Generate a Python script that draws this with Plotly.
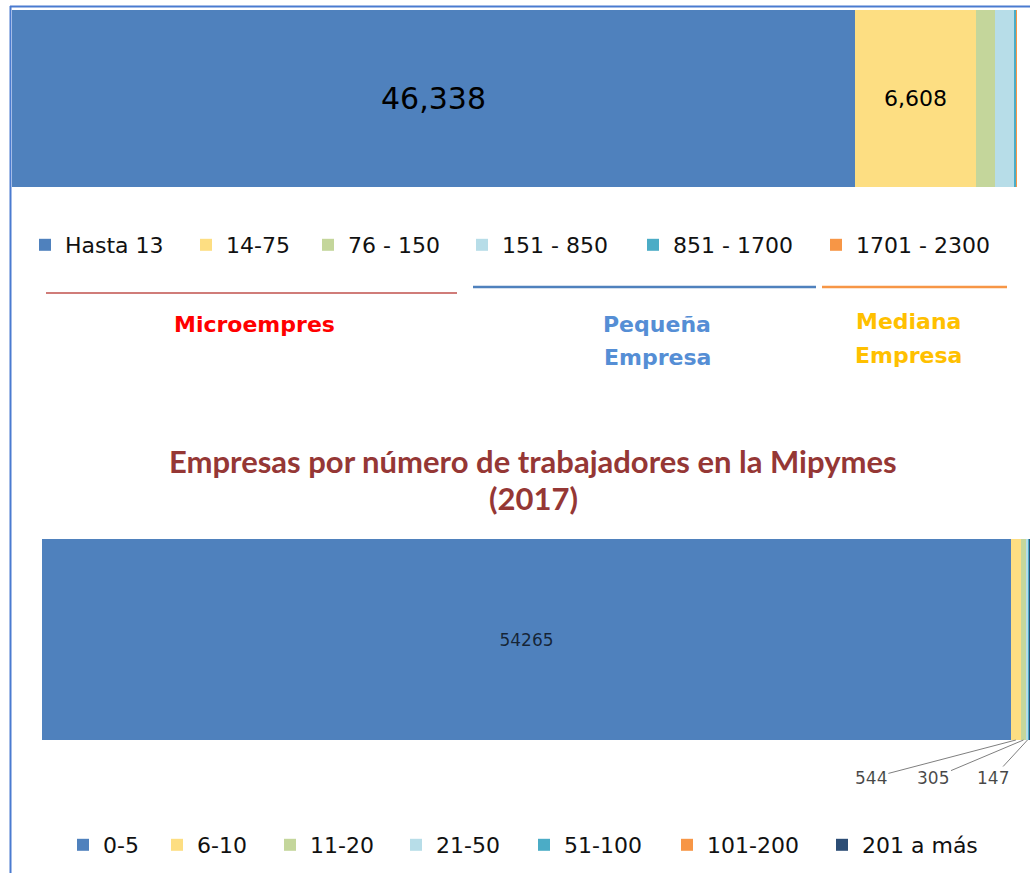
import plotly.graph_objects as go

# Empresas (Mipymes) by size band - upper bar
top_categories = ["Hasta 13", "14-75", "76 - 150", "151 - 850", "851 - 1700", "1701 - 2300"]
top_values = [46338, 6608, 1047, 1047, 165, 20]
top_show_label = [True, True, False, False, False, False]

# Empresas por número de trabajadores (2017) - lower bar
bottom_categories = ["0-5", "6-10", "11-20", "21-50", "51-100", "101-200", "201 a más"]
bottom_values = [54265, 544, 305, 147, 39, 14, 13]
bottom_show_label = [True, True, True, True, False, False, False]

title_lines = ["Empresas por número de trabajadores en la Mipymes", "(2017)"]

# ---- styling ----
W, H = 1030, 873
COLORS = ["#4F81BD", "#FDDE82", "#C4D69B", "#B7DDE8", "#4BACC6", "#F79646", "#2C4D75"]
LEGEND_FONT = dict(family="DejaVu Sans", size=22, color="#111111")
top_legend_left = [39, 200, 322, 476, 647, 830]
bottom_legend_left = [77, 171, 284, 410, 538, 681, 836]


def px(x):
    return x / W


def py(y):
    return 1 - y / H


fig = go.Figure()
legends = {}
n_leg = 0

top_fonts = [dict(family="DejaVu Sans", size=30, color="#000000"),
             dict(family="DejaVu Sans", size=22, color="#000000")]
for i, (cat, val, col, show) in enumerate(zip(top_categories, top_values, COLORS, top_show_label)):
    n_leg += 1
    key = "legend" if n_leg == 1 else f"legend{n_leg}"
    fig.add_trace(go.Bar(
        x=[val], y=[0], orientation="h", width=1, name=cat,
        marker=dict(color=col, line=dict(width=0)),
        text=[f"{val:,}"] if show else None,
        textposition="inside", insidetextanchor="middle", textangle=0,
        textfont=top_fonts[min(i, 1)],
        xaxis="x", yaxis="y", legend=key, hoverinfo="name+x",
    ))
    legends[key] = dict(x=px(top_legend_left[i] - 14), xanchor="left",
                        y=py(245), yanchor="middle", font=LEGEND_FONT,
                        bgcolor="rgba(0,0,0,0)", borderwidth=0)

annotations = []
cum = 0
for i, (cat, val, col, show) in enumerate(zip(bottom_categories, bottom_values, COLORS, bottom_show_label)):
    n_leg += 1
    key = f"legend{n_leg}"
    inside = show and i == 0
    fig.add_trace(go.Bar(
        x=[val], y=[0], orientation="h", width=1, name=cat,
        marker=dict(color=col, line=dict(width=0)),
        text=[str(val)] if inside else None,
        textposition="inside", insidetextanchor="middle", textangle=0,
        textfont=dict(family="DejaVu Sans", size=17, color="rgba(0,0,0,0.72)"),
        xaxis="x2", yaxis="y2", legend=key, hoverinfo="name+x",
    ))
    legends[key] = dict(x=px(bottom_legend_left[i] - 14), xanchor="left",
                        y=py(845), yanchor="middle", font=LEGEND_FONT,
                        bgcolor="rgba(0,0,0,0)", borderwidth=0)
    if show and not inside:
        # thin segments: value shown below the bar with a leader line
        annotations.append(dict(
            x=cum + val / 2, y=-0.5, xref="x2", yref="y2",
            text=str(val), showarrow=True, arrowhead=0, arrowwidth=1,
            arrowcolor="#7F7F7F", ax=-200 + 55 * i, ay=38,
            font=dict(family="DejaVu Sans", size=17, color="rgba(0,0,0,0.72)"),
        ))
    cum += val

# group captions under the upper legend
captions = [
    ("Microempres", 254, 324, "#FF0000"),
    ("Pequeña", 657, 324, "#558ED5"),
    ("Empresa", 657, 357, "#558ED5"),
    ("Mediana", 908, 321, "#FFC000"),
    ("Empresa", 908, 355, "#FFC000"),
]
for txt, cx, cy, col in captions:
    annotations.append(dict(
        x=px(cx), y=py(cy), xref="paper", yref="paper", text=f"<b>{txt}</b>",
        showarrow=False, xanchor="center", yanchor="middle",
        font=dict(family="DejaVu Sans", size=22, color=col),
    ))

for txt, cy in zip(title_lines, [461, 498]):
    annotations.append(dict(
        x=px(533), y=py(cy), xref="paper", yref="paper", text=f"<b>{txt}</b>",
        showarrow=False, xanchor="center", yanchor="middle",
        font=dict(family="Lato", size=31, color="#953735"),
    ))

shapes = [
    # frame edges
    dict(type="line", xref="paper", yref="paper", x0=px(10), x1=1, y0=py(6.5), y1=py(6.5),
         line=dict(color="#4A7BD0", width=2)),
    dict(type="line", xref="paper", yref="paper", x0=px(10.5), x1=px(10.5), y0=py(6), y1=0,
         line=dict(color="#4A7BD0", width=2)),
    # bracket lines for the size groups
    dict(type="line", xref="paper", yref="paper", x0=px(46), x1=px(457), y0=py(293), y1=py(293),
         line=dict(color="#C0504D", width=1.5)),
    dict(type="line", xref="paper", yref="paper", x0=px(473), x1=px(816), y0=py(287), y1=py(287),
         line=dict(color="#4F81BD", width=2.5)),
    dict(type="line", xref="paper", yref="paper", x0=px(822), x1=px(1007), y0=py(287), y1=py(287),
         line=dict(color="#F79646", width=2.5)),
]

axis_off = dict(visible=False, showgrid=False, zeroline=False, fixedrange=True)
fig.update_layout(
    width=W, height=H,
    margin=dict(l=0, r=0, t=0, b=0),
    paper_bgcolor="white", plot_bgcolor="white",
    barmode="stack", bargap=0,
    xaxis=dict(domain=[px(12), px(1017)], range=[0, sum(top_values)], anchor="y", **axis_off),
    yaxis=dict(domain=[py(187), py(10)], range=[-0.5, 0.5], anchor="x", **axis_off),
    xaxis2=dict(domain=[px(42), 1], range=[0, sum(bottom_values)], anchor="y2", **axis_off),
    yaxis2=dict(domain=[py(740), py(539)], range=[-0.5, 0.5], anchor="x2", **axis_off),
    annotations=annotations,
    shapes=shapes,
    showlegend=True,
    **legends,
)

fig.write_html("out.html")
